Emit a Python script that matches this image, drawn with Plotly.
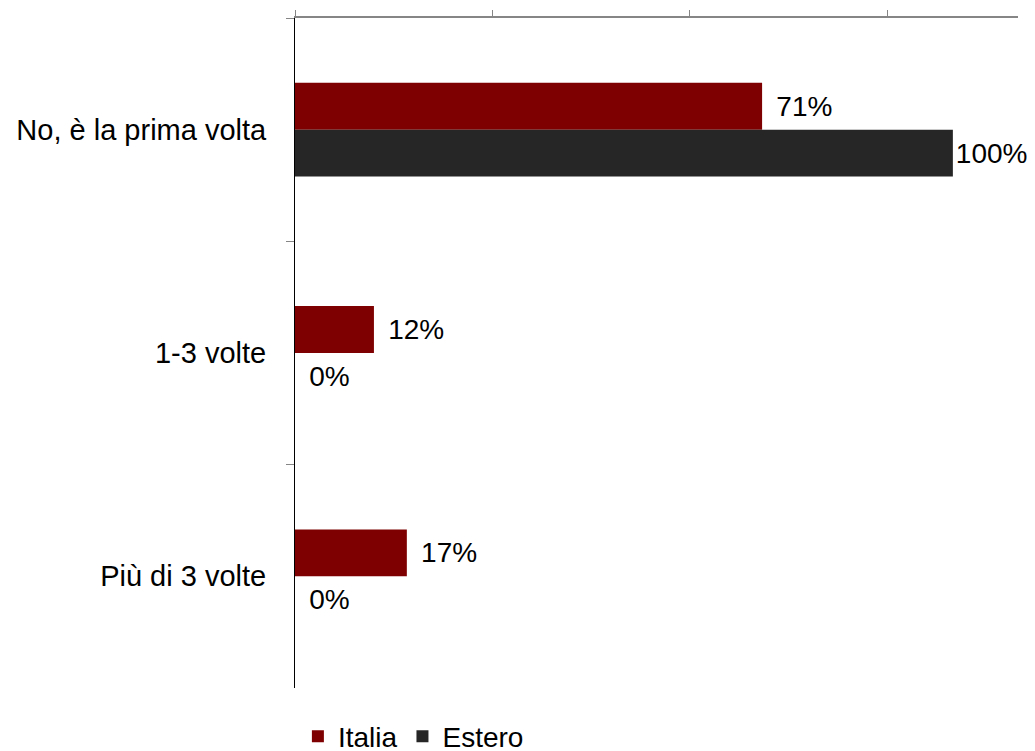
import plotly.graph_objects as go

categories = ["No, è la prima volta", "1-3 volte", "Più di 3 volte"]
italia = [0.71, 0.12, 0.17]
estero = [1.00, 0.00, 0.00]
series_names = ["Italia", "Estero"]
colors = ["#7F0000", "#262626"]
x_ticks = [0, 0.3, 0.6, 0.9]

FONT = "Liberation Sans, Arial, sans-serif"
FS = 29
FS_SMALL = 28


def label(v):
    # small gap before label, except for long bars where the label must fit the page
    pad = "" if v >= 0.95 else "\u2009\u2009"
    return pad + f"{round(v*100)}%"


fig = go.Figure()
for name, vals, col in zip(series_names, [italia, estero], colors):
    fig.add_trace(go.Bar(
        y=categories, x=vals, name=name, orientation="h",
        marker=dict(color=col, line=dict(width=0)),
        text=[label(v) for v in vals],
        textposition="outside", cliponaxis=False, constraintext="none",
        textfont=dict(family=FONT, size=FS_SMALL, color="#000000"),
    ))

fig.update_layout(
    template="none",
    width=1027, height=743,
    margin=dict(l=287, r=17, t=10, b=63, autoexpand=False),
    paper_bgcolor="white", plot_bgcolor="white",
    barmode="group", bargap=0.58, bargroupgap=0,
    font=dict(family=FONT, size=FS, color="#000000"),
    showlegend=True,
    legend=dict(orientation="h", xref="paper", x=0.004, xanchor="left",
                yref="container", y=0.0195, yanchor="middle",
                font=dict(family=FONT, size=FS_SMALL, color="#000000"),
                itemwidth=30, traceorder="normal", bgcolor="rgba(0,0,0,0)"),
    xaxis=dict(side="top", range=[0, 1.099], tickvals=x_ticks, showticklabels=False,
               showgrid=False, zeroline=False, showline=True, linecolor="#868686",
               linewidth=2, ticks="outside", ticklen=6, tickcolor="#868686", tickwidth=1,
               automargin=False),
    yaxis=dict(autorange="reversed", showgrid=False, zeroline=False, showline=True,
               linecolor="#000000", linewidth=1, ticks="outside", tickson="boundaries",
               ticklen=8, tickcolor="#868686", tickwidth=1,
               tickfont=dict(family=FONT, size=FS, color="#000000"),
               ticklabelstandoff=22, automargin=False),
)

fig.write_html("out.html")
